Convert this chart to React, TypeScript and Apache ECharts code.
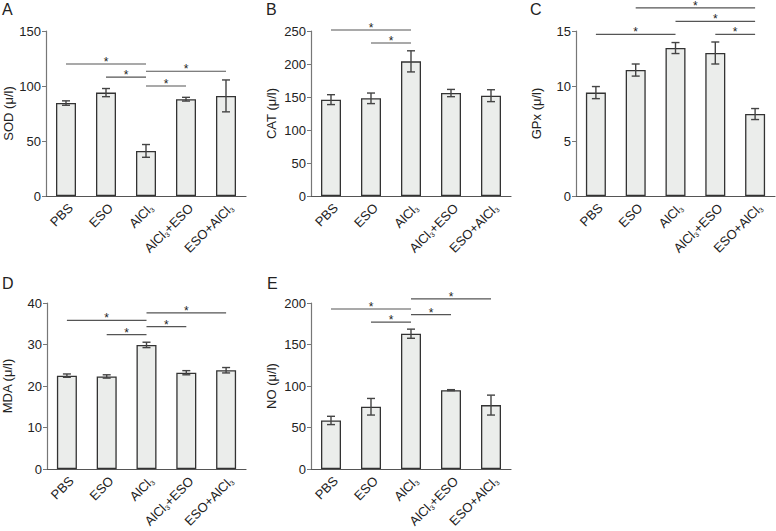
import React, { useEffect, useRef } from "react";
import * as echarts from "echarts";

const categories = ["PBS", "ESO", "AlCl3", "AlCl3+ESO", "ESO+AlCl3"];

const sodMean = [84.5, 94, 41, 88, 91];
const sodErr = [2, 3.7, 5.8, 1.7, 14.5];
const sodSig = [[0, 2, 120], [1, 2, 108], [2, 4, 113.4], [2, 3, 100]];

const catMean = [146, 148, 204, 156, 152];
const catErr = [7.5, 8, 16, 5.5, 9];
const catSig = [[0, 2, 251.5], [1, 2, 231.8]];

const gpxMean = [9.4, 11.45, 13.45, 13, 7.45];
const gpxErr = [0.55, 0.55, 0.5, 1, 0.5];
const gpxSig = [[0, 2, 14.7], [1, 4, 17.1], [2, 4, 15.88], [3, 4, 14.7]];

const mdaMean = [22.5, 22.3, 29.9, 23.2, 23.8];
const mdaErr = [0.4, 0.4, 0.65, 0.5, 0.65];
const mdaSig = [[0, 2, 35.8], [1, 2, 32.4], [2, 4, 37.6], [2, 3, 34.3]];

const noMean = [58.5, 75, 163, 95, 77];
const noErr = [5, 10, 5.5, 0.6, 12];
const noSig = [[0, 2, 192.8], [1, 2, 177], [2, 3, 186], [2, 4, 204.9]];

const panelLetters = ["A", "B", "C", "D", "E"];
const yNames = ["SOD (μ/l)", "CAT (μ/l)", "GPx (μ/l)", "MDA (μ/l)", "NO (μ/l)"];
const yMax = [150, 250, 15, 40, 200];
const yInterval = [50, 50, 5, 10, 50];

const FONT = '"Liberation Sans", Arial, Helvetica, sans-serif';

const panels = [
  { mean: sodMean, err: sodErr, sig: sodSig, left: 46, top: 31, h: 165, lx: 2, ly: 1, gap: 31 },
  { mean: catMean, err: catErr, sig: catSig, left: 311, top: 31, h: 165, lx: 266, ly: 1, gap: 33 },
  { mean: gpxMean, err: gpxErr, sig: gpxSig, left: 576, top: 31, h: 165, lx: 530, ly: 1, gap: 33 },
  { mean: mdaMean, err: mdaErr, sig: mdaSig, left: 46, top: 303, h: 166, lx: 2, ly: 275, gap: 33 },
  { mean: noMean, err: noErr, sig: noSig, left: 311, top: 303, h: 166, lx: 267, ly: 275, gap: 33 },
];

function fmtCat(v: string) {
  return v.replace(/AlCl3/g, "AlCl{s|3}");
}

export default function App() {
  const ref = useRef<HTMLDivElement>(null);
  useEffect(() => {
    if (!ref.current) return;
    const chart = echarts.init(ref.current, undefined, { renderer: "svg" });
    const grid: any[] = [];
    const xAxis: any[] = [];
    const yAxis: any[] = [];
    const series: any[] = [];
    const graphic: any[] = [];
    panels.forEach((p, i) => {
      grid.push({ left: p.left, top: p.top, width: i === 2 ? 199 : 200, height: p.h });
      xAxis.push({
        type: "category",
        gridIndex: i,
        data: categories,
        axisLine: { lineStyle: { color: "#555", width: 1.2 } },
        axisTick: { length: 4, lineStyle: { color: "#555" } },
        axisLabel: {
          rotate: 45,
          interval: 0,
          margin: 5,
          align: "right",
          verticalAlign: "top",
          fontSize: 13,
          color: "#222",
          fontFamily: FONT,
          formatter: fmtCat,
          rich: { s: { fontSize: 7, fontFamily: FONT, color: "#222", verticalAlign: "bottom", padding: [7, 0, 0, 0] } },
        },
      });
      yAxis.push({
        type: "value",
        gridIndex: i,
        min: 0,
        max: yMax[i],
        interval: yInterval[i],
        name: yNames[i],
        nameLocation: "middle",
        nameGap: p.gap,
        nameTextStyle: { fontSize: 13, color: "#222", fontFamily: FONT },
        splitLine: { show: false },
        axisLine: { show: true, lineStyle: { color: "#777", width: 1.2 } },
        axisTick: { show: true, length: 4, lineStyle: { color: "#777" } },
        axisLabel: { fontSize: 13, color: "#222", fontFamily: FONT, margin: 5 },
      });
      series.push({
        type: "bar",
        xAxisIndex: i,
        yAxisIndex: i,
        data: p.mean,
        barWidth: 20,
        itemStyle: { color: "#ebedeb", borderColor: "#333", borderWidth: 1.3 },
        z: 2,
      });
      series.push({
        type: "custom",
        xAxisIndex: i,
        yAxisIndex: i,
        z: 3,
        data: p.mean.map((m, k) => [k, m, p.err[k]]),
        encode: { x: 0, y: 1 },
        renderItem: (params: any, api: any) => {
          const x = api.value(0);
          const m = api.value(1);
          const e = api.value(2);
          const t = api.coord([x, m + e]);
          const b = api.coord([x, m - e]);
          const cx = t[0];
          const st = { stroke: "#444", lineWidth: 1.4 };
          return {
            type: "group",
            children: [
              { type: "line", shape: { x1: cx, y1: t[1], x2: cx, y2: b[1] }, style: st },
              { type: "line", shape: { x1: cx - 4, y1: t[1], x2: cx + 4, y2: t[1] }, style: st },
              { type: "line", shape: { x1: cx - 4, y1: b[1], x2: cx + 4, y2: b[1] }, style: st },
            ],
          };
        },
      });
      series.push({
        type: "custom",
        xAxisIndex: i,
        yAxisIndex: i,
        z: 4,
        clip: false,
        data: p.sig,
        encode: { x: [0, 1], y: 2 },
        renderItem: (params: any, api: any) => {
          const a = api.coord([api.value(0), api.value(2)]);
          const b = api.coord([api.value(1), api.value(2)]);
          return {
            type: "group",
            children: [
              { type: "line", shape: { x1: a[0], y1: a[1], x2: b[0], y2: b[1] }, style: { stroke: "#555", lineWidth: 1.2 } },
              {
                type: "text",
                x: (a[0] + b[0]) / 2,
                y: a[1] - 2,
                style: { text: "*", fontSize: 12, fontFamily: FONT, fill: "#222", align: "center", verticalAlign: "middle" },
              },
            ],
          };
        },
      });
      graphic.push({
        type: "text",
        left: p.lx,
        top: p.ly,
        style: { text: panelLetters[i], fontSize: 16, fontFamily: FONT, fill: "#222" },
      });
    });
    chart.setOption({
      animation: false,
      backgroundColor: "#fff",
      grid,
      xAxis,
      yAxis,
      series,
      graphic,
    });
    return () => chart.dispose();
  }, []);
  return <div ref={ref} style={{ position: "fixed", left: 0, top: 0, width: 776, height: 531 }} />;
}
